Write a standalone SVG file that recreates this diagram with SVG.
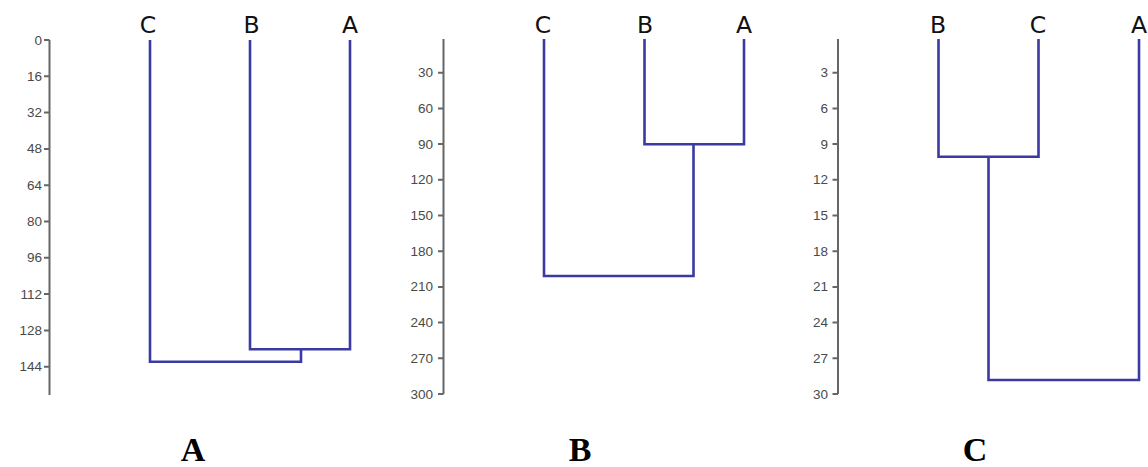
<svg xmlns="http://www.w3.org/2000/svg" width="1148" height="467" viewBox="0 0 1148 467">
<style>
.axis{stroke:#666;stroke-width:2;fill:none}
.tick{font-family:"Liberation Sans",Arial,sans-serif;font-size:13.5px;fill:#4a4a4a;text-anchor:end}
.leaf{font-family:"DejaVu Sans",Verdana,sans-serif;font-size:23.5px;fill:#111;text-anchor:middle}
.branch{stroke:#3a3aa2;stroke-width:2.6;fill:none;stroke-linejoin:miter}
.cap{font-family:"Liberation Serif","Times New Roman",serif;font-weight:bold;font-size:34px;fill:#000;text-anchor:middle}
</style>
<rect width="1148" height="467" fill="#fff"/>

<g id="panelA">
  <g id="axisA">
    <path class="axis" d="M49.5 40V395M44 40H49.5M44 76.3H49.5M44 112.6H49.5M44 148.9H49.5M44 185.2H49.5M44 221.5H49.5M44 257.8H49.5M44 294.1H49.5M44 330.4H49.5M44 366.7H49.5"/>
    <text class="tick" x="42" y="44.5">0</text>
    <text class="tick" x="42" y="80.8">16</text>
    <text class="tick" x="42" y="117.1">32</text>
    <text class="tick" x="42" y="153.4">48</text>
    <text class="tick" x="42" y="189.7">64</text>
    <text class="tick" x="42" y="226">80</text>
    <text class="tick" x="42" y="262.3">96</text>
    <text class="tick" x="42" y="298.6">112</text>
    <text class="tick" x="42" y="334.9">128</text>
    <text class="tick" x="42" y="371.2">144</text>
  </g>
  <g id="leafA_C"><text class="leaf" x="148" y="33">C</text></g>
  <g id="leafA_B"><text class="leaf" x="251.5" y="33">B</text></g>
  <g id="leafA_A"><text class="leaf" x="350" y="33">A</text></g>
  <g id="connectorsA">
    <path class="branch" d="M250 40V349.3H350V40"/>
    <path class="branch" d="M150 40V361.7H301V349.3"/>
  </g>
  <g id="captionA"><text class="cap" x="193" y="461">A</text></g>
</g>

<g id="panelB">
  <g id="axisB">
    <path class="axis" d="M443.5 39V394M438 72.7H443.5M438 108.4H443.5M438 144.1H443.5M438 179.8H443.5M438 215.5H443.5M438 251.2H443.5M438 286.9H443.5M438 322.6H443.5M438 358.3H443.5M438 394H443.5"/>
    <text class="tick" x="433" y="77.2">30</text>
    <text class="tick" x="433" y="112.9">60</text>
    <text class="tick" x="433" y="148.6">90</text>
    <text class="tick" x="433" y="184.3">120</text>
    <text class="tick" x="433" y="220">150</text>
    <text class="tick" x="433" y="255.7">180</text>
    <text class="tick" x="433" y="291.4">210</text>
    <text class="tick" x="433" y="327.1">240</text>
    <text class="tick" x="433" y="362.8">270</text>
    <text class="tick" x="433" y="398.5">300</text>
  </g>
  <g id="leafB_C"><text class="leaf" x="543" y="33">C</text></g>
  <g id="leafB_B"><text class="leaf" x="645" y="33">B</text></g>
  <g id="leafB_A"><text class="leaf" x="744" y="33">A</text></g>
  <g id="connectorsB">
    <path class="branch" d="M644.5 39V144.3H744V39"/>
    <path class="branch" d="M544 39V276H693.5V144.3"/>
  </g>
  <g id="captionB"><text class="cap" x="580" y="461">B</text></g>
</g>

<g id="panelC">
  <g id="axisC">
    <path class="axis" d="M838 39V394M832.5 72.7H838M832.5 108.4H838M832.5 144.1H838M832.5 179.8H838M832.5 215.5H838M832.5 251.2H838M832.5 286.9H838M832.5 322.6H838M832.5 358.3H838M832.5 394H838"/>
    <text class="tick" x="828" y="77.2">3</text>
    <text class="tick" x="828" y="112.9">6</text>
    <text class="tick" x="828" y="148.6">9</text>
    <text class="tick" x="828" y="184.3">12</text>
    <text class="tick" x="828" y="220">15</text>
    <text class="tick" x="828" y="255.7">18</text>
    <text class="tick" x="828" y="291.4">21</text>
    <text class="tick" x="828" y="327.1">24</text>
    <text class="tick" x="828" y="362.8">27</text>
    <text class="tick" x="828" y="398.5">30</text>
  </g>
  <g id="leafC_B"><text class="leaf" x="938" y="33">B</text></g>
  <g id="leafC_C"><text class="leaf" x="1038" y="33">C</text></g>
  <g id="leafC_A"><text class="leaf" x="1139" y="33">A</text></g>
  <g id="connectorsC">
    <path class="branch" d="M938.5 39V156.7H1038.5V39"/>
    <path class="branch" d="M988.5 156.7V380H1139V39"/>
  </g>
  <g id="captionC"><text class="cap" x="975" y="461">C</text></g>
</g>
</svg>
